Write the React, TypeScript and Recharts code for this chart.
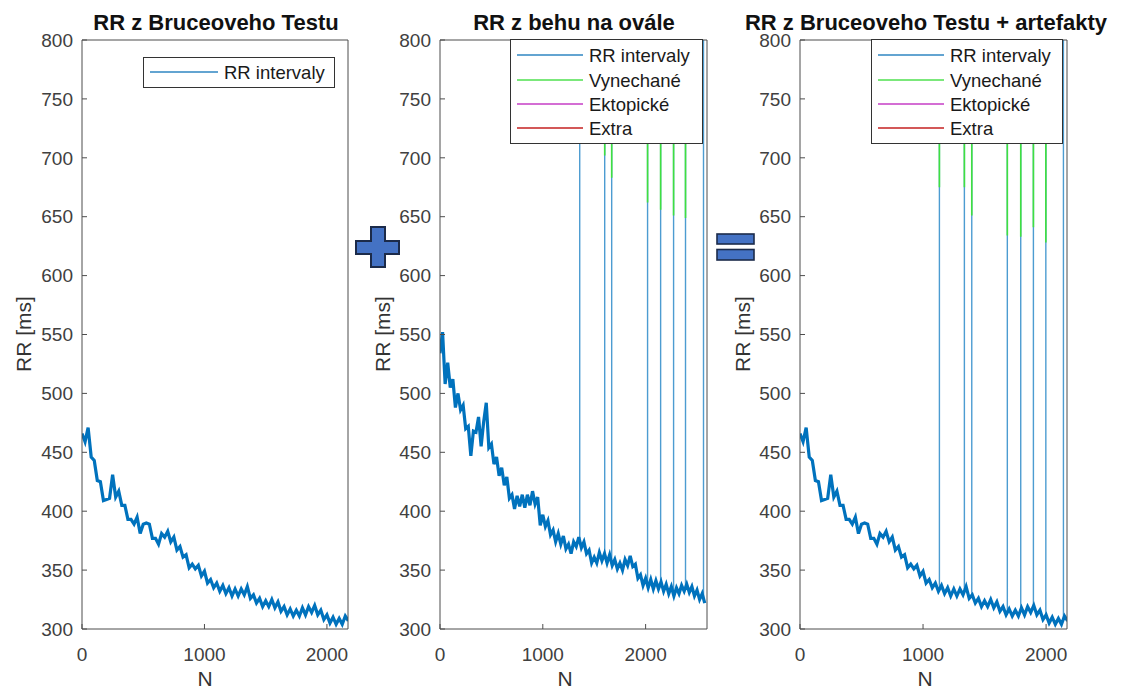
import { LineChart, Line, XAxis, YAxis } from "recharts";

// sample spacing of the typed RR values (beat index N)
const STEP = 25;
const Y_TICKS = [300, 350, 400, 450, 500, 550, 600, 650, 700, 750, 800];
const X_TICKS = [0, 1000, 2000];

// RR z Bruceoveho Testu, every 25th beat
const bruceRR = [
  466, 459, 471, 446, 443, 426, 425, 409, 410, 411, 431, 412, 417, 405, 405, 393,
  393, 389, 395, 381, 389, 390, 389, 377, 377, 372, 381, 378, 383, 374, 378, 367,
  370, 361, 363, 352, 355, 351, 354, 345, 349, 339, 342, 335, 339, 332, 337, 330,
  335, 328, 334, 328, 334, 329, 336, 326, 329, 322, 326, 319, 324, 319, 325, 318,
  323, 315, 319, 312, 317, 311, 316, 311, 318, 312, 319, 314, 320, 312, 316, 308,
  312, 305, 310, 304, 309, 304, 311, 307,
];

// RR z behu na ovále, every 25th beat
const ovalRR = [
  534, 552, 508, 526, 505, 512, 488, 500, 486, 490, 470, 472, 447, 468, 467, 480,
  455, 476, 492, 454, 457, 440, 446, 430, 437, 422, 429, 411, 414, 402, 413, 404,
  414, 403, 414, 405, 417, 406, 412, 388, 397, 387, 392, 380, 384, 374, 381, 372,
  379, 368, 372, 364, 374, 370, 378, 369, 374, 364, 367, 356, 361, 356, 365, 358,
  364, 356, 363, 354, 359, 351, 356, 350, 359, 354, 362, 353, 355, 343, 346, 337,
  343, 335, 342, 334, 341, 334, 340, 332, 338, 330, 336, 328, 335, 330, 337, 332,
  338, 331, 336, 328, 333, 325, 330, 322,
];

// artefacts in the run recording
const ovalSpikeN = [1359, 1602, 1670, 2019, 2146, 2272, 2388, 2563];
const ovalSpikeBase = [375, 361, 358, 340, 338, 333, 335, 327];
const ovalMissedFrom = [null, 702, 683, 662, 656, 651, 649, null];

// artefacts added to the Bruce test
const artSpikeN = [1133, 1336, 1396, 1685, 1794, 1897, 1998, 2141];
const artSpikeBase = [335, 334, 327, 315, 316, 318, 310, 309];
const artMissedFrom = [675, 675, 651, 634, 633, 641, 628, null];

const SPIKE_TOP = 1000;

const legendNames = ["RR intervaly", "Vynechané", "Ektopické", "Extra"];
const legendColors = ["#2f86c2", "#4fe04f", "#c63ec6", "#c42020"];

const AXIS = "#4d4d4d";
const BLUE = "#0072BD";
const FONT = "'Liberation Sans', Arial, sans-serif";

const toPoints = (vals: number[]) => vals.map((v, i) => ({ n: i * STEP, rr: v }));

const spikePoints = (ns: number[], base: number[]) =>
  ns.flatMap((n, i) => [
    { n, rr: base[i] },
    { n, rr: SPIKE_TOP },
    { n, rr: null },
  ]);

const missedPoints = (ns: number[], from: (number | null)[]) =>
  ns.flatMap((n, i) =>
    from[i] == null
      ? []
      : [
          { n, rr: from[i] },
          { n, rr: SPIKE_TOP },
          { n, rr: null },
        ]
  );

interface PanelProps {
  left: number;
  width: number;
  marginLeft: number;
  marginRight: number;
  xMax: number;
  rr: number[];
  spikeN?: number[];
  spikeBase?: number[];
  missedFrom?: (number | null)[];
}

function Panel({ left, width, marginLeft, marginRight, xMax, rr, spikeN, spikeBase, missedFrom }: PanelProps) {
  const tickStyle = { fontSize: 19, fill: "#404040", fontFamily: FONT };
  return (
    <div style={{ position: "absolute", left, top: 0 }}>
      <LineChart width={width} height={690} margin={{ top: 10, right: marginRight, bottom: 31, left: marginLeft }}>
        <XAxis
          dataKey="n"
          type="number"
          domain={[0, xMax]}
          ticks={X_TICKS}
          interval={0}
          allowDataOverflow
          height={30}
          tickSize={-5}
          tickMargin={24}
          tick={tickStyle}
          axisLine={{ stroke: AXIS }}
          tickLine={{ stroke: AXIS }}
        />
        <XAxis
          xAxisId="top"
          orientation="top"
          type="number"
          domain={[0, xMax]}
          ticks={X_TICKS}
          interval={0}
          allowDataOverflow
          height={30}
          tickSize={-5}
          tick={false}
          axisLine={{ stroke: AXIS }}
          tickLine={{ stroke: AXIS }}
        />
        <YAxis
          type="number"
          domain={[300, 800]}
          ticks={Y_TICKS}
          interval={0}
          allowDataOverflow
          width={60}
          tickSize={-5}
          tickMargin={14}
          tick={tickStyle}
          axisLine={{ stroke: AXIS }}
          tickLine={{ stroke: AXIS }}
        />
        <YAxis
          yAxisId="right"
          orientation="right"
          type="number"
          domain={[300, 800]}
          ticks={Y_TICKS}
          interval={0}
          allowDataOverflow
          width={10}
          tickSize={-5}
          tick={false}
          axisLine={{ stroke: AXIS }}
          tickLine={{ stroke: AXIS }}
        />
        <Line
          data={toPoints(rr)}
          dataKey="rr"
          type="linear"
          stroke={BLUE}
          strokeWidth={3.2}
          strokeLinejoin="miter"
          dot={false}
          activeDot={false}
          isAnimationActive={false}
        />
        {spikeN && spikeBase && (
          <Line
            data={spikePoints(spikeN, spikeBase)}
            dataKey="rr"
            type="linear"
            stroke={BLUE}
            strokeOpacity={0.7}
            strokeWidth={1.4}
            dot={false}
            activeDot={false}
            connectNulls={false}
            isAnimationActive={false}
          />
        )}
        {spikeN && missedFrom && (
          <Line
            data={missedPoints(spikeN, missedFrom)}
            dataKey="rr"
            type="linear"
            stroke="#3fe03f"
            strokeWidth={1.6}
            dot={false}
            activeDot={false}
            connectNulls={false}
            isAnimationActive={false}
          />
        )}
      </LineChart>
    </div>
  );
}

function LegendBox({ x, y, w, h, count, lineX1, lineX2, rows }: { x: number; y: number; w: number; h: number; count: number; lineX1: number; lineX2: number; rows: number[] }) {
  return (
    <g>
      <rect x={x} y={y} width={w} height={h} fill="#fff" stroke="#333" strokeWidth={1} />
      {legendNames.slice(0, count).map((name, i) => (
        <g key={name}>
          <line x1={lineX1} x2={lineX2} y1={rows[i]} y2={rows[i]} stroke={legendColors[i]} strokeWidth={1.3} />
          <text x={lineX2 + 6} y={rows[i] + 7} fontSize={18.5} fill="#1a1a1a">
            {name}
          </text>
        </g>
      ))}
    </g>
  );
}

export default function App() {
  const titleStyle = { fontSize: 22, fontWeight: 700, fill: "#111" } as const;
  const labelStyle = { fontSize: 21, fill: "#333" } as const;
  const rows = [55, 80, 104, 128];
  return (
    <div style={{ position: "absolute", left: 0, top: 0, width: 1125, height: 690, background: "#fff", fontFamily: FONT }}>
      <Panel left={0} width={360} marginLeft={22} marginRight={2} xMax={2172} rr={bruceRR} />
      <Panel
        left={360}
        width={360}
        marginLeft={20}
        marginRight={3}
        xMax={2597}
        rr={ovalRR}
        spikeN={ovalSpikeN}
        spikeBase={ovalSpikeBase}
        missedFrom={ovalMissedFrom}
      />
      <Panel
        left={720}
        width={405}
        marginLeft={20}
        marginRight={48}
        xMax={2170}
        rr={bruceRR}
        spikeN={artSpikeN}
        spikeBase={artSpikeBase}
        missedFrom={artMissedFrom}
      />
      <svg width={1125} height={690} style={{ position: "absolute", left: 0, top: 0, pointerEvents: "none", fontFamily: FONT }}>
        <text x={216} y={30} textAnchor="middle" {...titleStyle}>RR z Bruceoveho Testu</text>
        <text x={574} y={30} textAnchor="middle" {...titleStyle}>RR z behu na ovále</text>
        <text x={926} y={30} textAnchor="middle" {...titleStyle}>RR z Bruceoveho Testu + artefakty</text>

        <text x={31} y={334} textAnchor="middle" transform="rotate(-90 31 334)" {...labelStyle}>RR [ms]</text>
        <text x={390} y={334} textAnchor="middle" transform="rotate(-90 390 334)" {...labelStyle}>RR [ms]</text>
        <text x={750} y={334} textAnchor="middle" transform="rotate(-90 750 334)" {...labelStyle}>RR [ms]</text>

        <text x={205} y={686} textAnchor="middle" {...labelStyle}>N</text>
        <text x={565} y={686} textAnchor="middle" {...labelStyle}>N</text>
        <text x={925} y={686} textAnchor="middle" {...labelStyle}>N</text>

        <LegendBox x={143.5} y={57.5} w={191} h={30} count={1} lineX1={150} lineX2={218} rows={[72]} />
        <LegendBox x={510.5} y={39.5} w={192} h={104} count={4} lineX1={517} lineX2={583} rows={rows} />
        <LegendBox x={871.5} y={39.5} w={191} h={104} count={4} lineX1={878} lineX2={944} rows={rows} />

        <polygon
          points="371,227 385,227 385,241 399,241 399,254 385,254 385,267 371,267 371,254 356,254 356,241 371,241"
          fill="#4472C4"
          stroke="#1c2b4a"
          strokeWidth={2}
        />
        <rect x={717} y={234} width={37} height={10} fill="#4472C4" stroke="#1c2b4a" strokeWidth={1.6} />
        <rect x={717} y={249.5} width={37} height={10.5} fill="#4472C4" stroke="#1c2b4a" strokeWidth={1.6} />
      </svg>
    </div>
  );
}
